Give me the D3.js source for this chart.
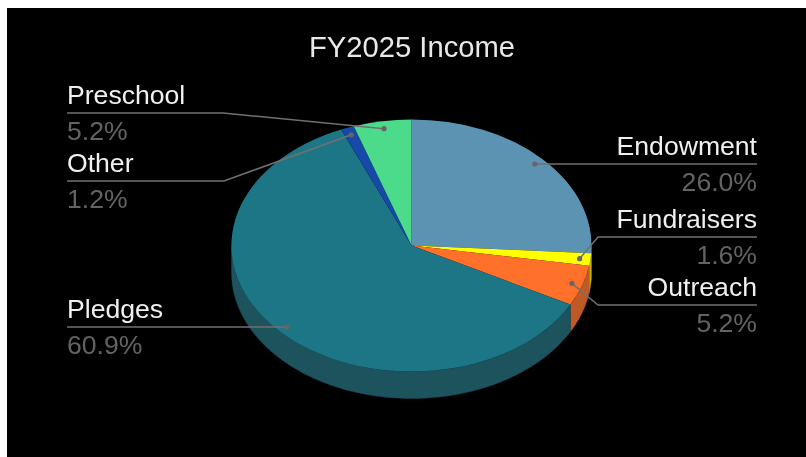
<!DOCTYPE html>
<html>
<head>
<meta charset="utf-8">
<script src="https://cdn.jsdelivr.net/npm/d3@7/dist/d3.min.js"></script>
<style>
html,body{margin:0;padding:0;background:#fff;overflow:hidden}
svg{display:block}
text{font-family:"Liberation Sans",Arial,sans-serif}
</style>
</head>
<body>
<script>
const categories = ["Endowment","Fundraisers","Outreach","Pledges","Other","Preschool"];
const values = [26.0,1.6,5.2,60.9,1.2,5.2];
const valueLabels = ["26.0%","1.6%","5.2%","60.9%","1.2%","5.2%"];
const colors = ["#5b93b2","#ffff00","#ff6f2c","#1f7686","#1248a8","#4cdb8b"];
const wallColors = ["#40677d","#b8b800","#bf5a28","#1a525d","#0d3276","#359a61"];
const chartTitle = "FY2025 Income";

const W = 806, H = 457;
const cx = 411.5, cy = 245.5, rx = 180, ry = 126, depth = 27;
// label layout: side, rule y, elbow x (flat: the leader runs level into the anchor dot)
const labelLayout = [
  {side:"right", y:164, flat:true},
  {side:"right", y:237, elbow:598},
  {side:"right", y:305, elbow:598},
  {side:"left",  y:327, flat:true},
  {side:"left",  y:181, elbow:224},
  {side:"left",  y:113, elbow:223}
];
const leftX = 67, rightX = 757, fontSize = 26.6;

const svg = d3.select("body").append("svg").attr("width",W).attr("height",H);
const defs = svg.append("defs");
defs.append("filter").attr("id","soft").attr("x",0).attr("y",0).attr("width","100%").attr("height","100%")
  .append("feGaussianBlur").attr("stdDeviation",0.55);

svg.append("rect").attr("width",W).attr("height",H).attr("fill","#fff");
svg.append("rect").attr("x",7).attr("y",8).attr("width",W-7).attr("height",H-8).attr("fill","#000");

const g = svg.append("g").attr("filter","url(#soft)");

const slices = d3.pie().sort(null).value(d=>d)(values);
const sx = d3.scaleLinear().domain([-1,1]).range([cx-rx,cx+rx]);
const sy = d3.scaleLinear().domain([-1,1]).range([cy-ry,cy+ry]);
const pt = a => [sx(Math.sin(a)), sy(-Math.cos(a))];

// side walls: only the front half of the rim (angles PI/2..3PI/2)
const wall = g.append("g");
slices.forEach((s,i)=>{
  const a0 = Math.max(s.startAngle, Math.PI/2), a1 = Math.min(s.endAngle, Math.PI*1.5);
  if (a1 <= a0) return;
  const n = Math.max(2, Math.ceil((a1-a0)*60));
  const angles = d3.range(n+1).map(k=>a0+(a1-a0)*k/n);
  const rim = angles.map(pt);
  const poly = rim.concat(rim.slice().reverse().map(p=>[p[0],p[1]+depth]));
  wall.append("path").attr("d",d3.line()(poly)+"Z").attr("fill",wallColors[i]).attr("stroke",wallColors[i]).attr("stroke-width",0.4);
});

// top face
const arc = d3.arc().innerRadius(0).outerRadius(1);
const face = g.append("g").attr("transform",`translate(${cx},${cy}) scale(${rx},${ry})`);
face.selectAll("path").data(slices).join("path").attr("d",arc).attr("fill",(d,i)=>colors[i]);

// leaders
const anchor = d3.arc().innerRadius(0.94).outerRadius(0.94);
const lead = g.append("g");
slices.forEach((s,i)=>{
  const c = anchor.centroid(s);
  const L = labelLayout[i];
  const p = [cx+c[0]*rx, L.flat ? L.y : cy+c[1]*ry];
  const endX = L.side==="left" ? leftX : rightX;
  const pts = L.flat ? [[endX,L.y],p] : [[endX,L.y],[L.elbow,L.y],p];
  lead.append("path")
    .attr("d",d3.line()(pts))
    .attr("fill","none").attr("stroke","#707070").attr("stroke-width",1.5);
  lead.append("circle").attr("cx",p[0]).attr("cy",p[1]).attr("r",2.6).attr("fill","#666");
  const anchorTxt = L.side==="left" ? "start" : "end";
  g.append("text").attr("x",endX).attr("y",L.y-9).attr("text-anchor",anchorTxt)
    .attr("font-size",fontSize).attr("fill","#f0f0f0").text(categories[i]);
  g.append("text").attr("x",endX).attr("y",L.y+27).attr("text-anchor",anchorTxt)
    .attr("font-size",fontSize).attr("fill","#646464").text(valueLabels[i]);
});

g.append("text").attr("x",412).attr("y",57).attr("text-anchor","middle")
  .attr("font-size",29.2).attr("fill","#e8e8e8").text(chartTitle);
</script>
</body>
</html>
